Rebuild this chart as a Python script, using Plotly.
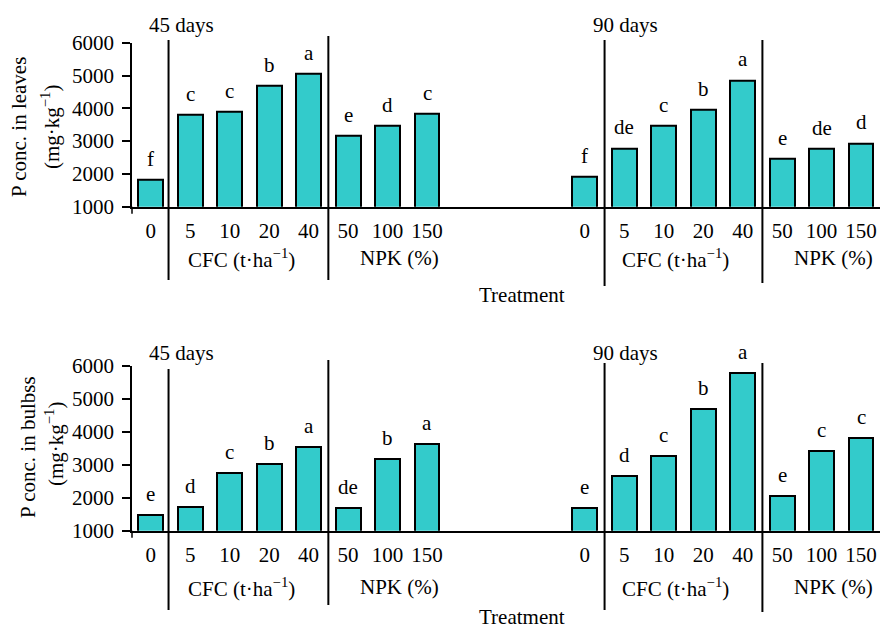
import plotly.graph_objects as go

treatments = ["0", "5", "10", "20", "40", "50", "100", "150"]
leaves_45 = [1810, 3790, 3890, 4690, 5050, 3150, 3470, 3840]
leaves_90 = [1910, 2780, 3470, 3950, 4850, 2460, 2770, 2930]
bulbs_45 = [1480, 1730, 2760, 3030, 3550, 1680, 3170, 3640]
bulbs_90 = [1680, 2660, 3280, 4690, 5780, 2060, 3430, 3800]
leaves_45_sig = ["f", "c", "c", "b", "a", "e", "d", "c"]
leaves_90_sig = ["f", "de", "c", "b", "a", "e", "de", "d"]
bulbs_45_sig = ["e", "d", "c", "b", "a", "de", "b", "a"]
bulbs_90_sig = ["e", "d", "c", "b", "a", "e", "c", "c"]
y_ticks = [1000, 2000, 3000, 4000, 5000, 6000]

FONT = "Liberation Serif"
FS = 21
TXT = dict(family=FONT, size=FS, color="black")
FILL = "#33CBCB"
GAP = 3  # empty slots between the two sampling dates

n = len(treatments)
pos45 = list(range(n))
pos90 = [n + GAP + i for i in range(n)]
allpos = pos45 + pos90
alllabels = treatments + treatments

fig = go.Figure()
panels = [
    ("x", "y", leaves_45, leaves_90, leaves_45_sig, leaves_90_sig),
    ("x2", "y2", bulbs_45, bulbs_90, bulbs_45_sig, bulbs_90_sig),
]
for xa, ya, v45, v90, s45, s90 in panels:
    fig.add_trace(go.Bar(
        x=allpos, y=v45 + v90, xaxis=xa, yaxis=ya, width=0.63,
        marker=dict(color=FILL, line=dict(color="black", width=2)),
        showlegend=False, hoverinfo="skip"))
    for p, v, s in zip(allpos, v45 + v90, s45 + s90):
        fig.add_annotation(x=p, y=v, xref=xa, yref=ya, text=s, showarrow=False,
                           yanchor="middle", yshift=21, font=TXT)

axis_common = dict(showline=True, linecolor="black", linewidth=1.5, zeroline=False,
                   showgrid=False, automargin=False, tickfont=TXT)
xrng = [-0.476, 2 * n + GAP - 1 + 0.48]
fig.update_layout(
    template="none",
    width=880, height=628, margin=dict(l=0, r=0, t=0, b=0, pad=0, autoexpand=False),
    plot_bgcolor="white", paper_bgcolor="white",
    font=TXT,
    bargap=0,
    xaxis=dict(domain=[132 / 880, 1], range=xrng, tickvals=allpos, ticktext=alllabels,
               ticks="outside", ticklen=4, tickcolor="rgba(0,0,0,0)", anchor="y",
               **axis_common),
    yaxis=dict(domain=[1 - 206.7 / 628, 1 - 42.7 / 628], range=[1000, 6000],
               tickvals=y_ticks, ticks="outside", ticklen=8, tickwidth=1.5,
               tickcolor="black", anchor="x", ticklabelstandoff=4, **axis_common),
    xaxis2=dict(domain=[132 / 880, 1], range=xrng, tickvals=allpos, ticktext=alllabels,
                ticks="outside", ticklen=4, tickcolor="rgba(0,0,0,0)", anchor="y2",
                **axis_common),
    yaxis2=dict(domain=[1 - 530.7 / 628, 1 - 366 / 628], range=[1000, 6000],
                tickvals=y_ticks, ticks="outside", ticklen=8, tickwidth=1.5,
                tickcolor="black", anchor="x2", ticklabelstandoff=4, **axis_common),
)

def ann(x, y, text, xref="paper", yref="paper", angle=0, xanchor="center", xshift=0):
    fig.add_annotation(x=x, y=y, xref=xref, yref=yref, text=text, showarrow=False,
                       textangle=angle, xanchor=xanchor, yanchor="middle",
                       xshift=xshift, font=TXT)

def px_x(px):
    return px / 880

def px_y(py):
    return 1 - py / 628

for xa, ya, yspans, top_y, lab_y, treat_y in [
    ("x", "y", [(40, 280), (36, 280), (40, 286), (40, 283)], 25, 258, 295),
    ("x2", "y2", [(369, 610), (360, 605), (363, 610), (363, 612)], 353, 587, 617),
]:
    divs = [0.45, 4.5, n + GAP + 0.5, n + GAP + 4.5]
    for d, (y0, y1) in zip(divs, yspans):
        fig.add_shape(type="line", xref=xa, yref="paper", x0=d, x1=d,
                      y0=px_y(y1), y1=px_y(y0), line=dict(color="black", width=2))
    base_px = 206.7 if xa == "x" else 530.7
    fig.add_shape(type="line", xref=xa + " domain", yref="paper", x0=0, x1=0,
                  y0=px_y(base_px + 7), y1=px_y(base_px),
                  line=dict(color="black", width=1.5))
    ann(0, px_y(top_y), "45 days", xref=xa, xanchor="left", xshift=-4)
    ann(n + GAP, px_y(top_y), "90 days", xref=xa, xanchor="left", xshift=6)
    for base in (0, n + GAP):
        ann(base + 2.3, px_y(lab_y), "CFC (t·ha<sup>−1</sup>)", xref=xa)
        ann(base + 6.3, px_y(lab_y), "NPK (%)", xref=xa)
    ann(px_x(522), px_y(treat_y), "Treatment")

ann(px_x(19), px_y(127), "P conc. in leaves", angle=-90)
ann(px_x(50), px_y(127), "(mg·kg<sup>−1</sup>)", angle=-90)
ann(px_x(28), px_y(447), "P conc. in bulbss", angle=-90)
ann(px_x(55), px_y(444), "(mg·kg<sup>−1</sup>)", angle=-90)

fig.write_html("out.html", config={"displayModeBar": False},
               post_script="document.body.style.margin='0';document.body.style.overflow='hidden';")
